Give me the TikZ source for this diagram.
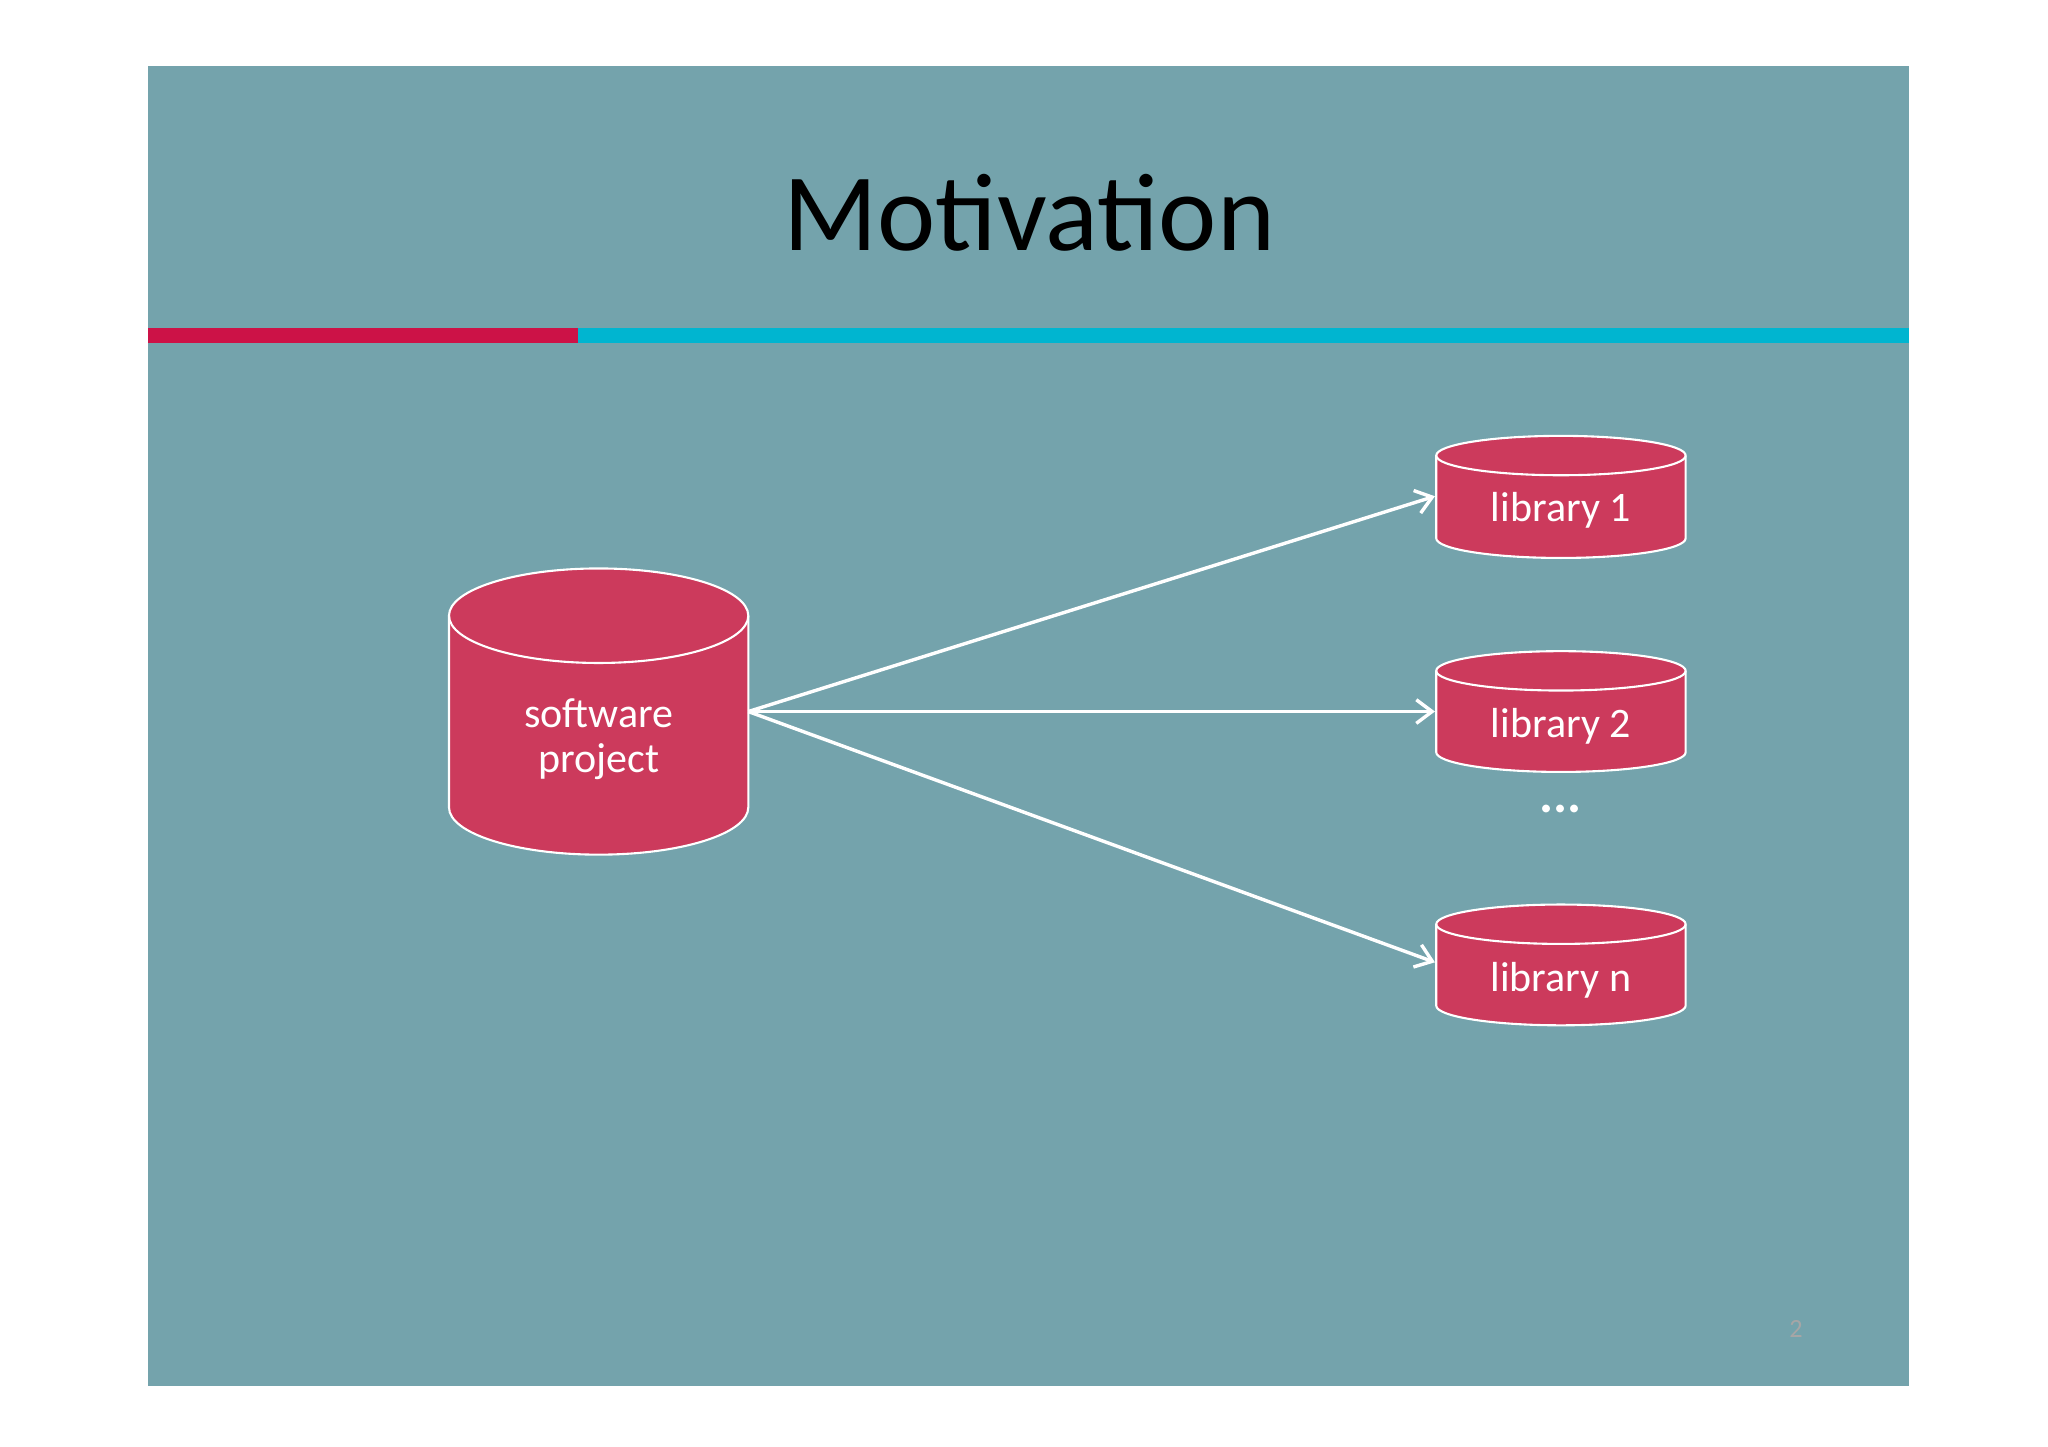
\documentclass[tikz,border=0pt]{standalone}
\usepackage{fontspec}
\setmainfont{Carlito}
\definecolor{bg}{HTML}{74A3AC}
\definecolor{cyl}{HTML}{CC3A5C}
\definecolor{barred}{HTML}{CC1247}
\definecolor{barcyan}{HTML}{00B5D0}
\newcommand{\mycyl}[5]{% x1 x2 ytop ybottom ry
  \pgfmathsetmacro{\rx}{(#2-#1)/2}
  \fill[cyl,draw=white,line width=0.8pt] (#1,#3) -- (#1,#4) arc[start angle=180,end angle=0,x radius=\rx,y radius=#5] -- (#2,#3) arc[start angle=0,end angle=-180,x radius=\rx,y radius=#5] -- cycle;
  \draw[white,line width=0.8pt] (#1,#3) arc[start angle=180,end angle=0,x radius=\rx,y radius=#5];
}
\usetikzlibrary{arrows.meta}
\tikzset{lbl/.style={text=white,font=\fontsize{16}{19}\selectfont,align=center},
arr/.style={white,line width=1.3pt,-{Straight Barb[length=6pt,width=9pt]}}}
\begin{document}
\begin{tikzpicture}[x=0.5pt,y=-0.5pt]
\useasboundingbox (0,0) rectangle (1560,1102);
\fill[white] (0,0) rectangle (1560,1102);
\fill[bg] (113,50) rectangle (1454,1056);
\fill[barred] (113,250) rectangle (440,261);
\fill[barcyan] (440,250) rectangle (1454,261);
\node[font=\fontsize{42}{48}\selectfont] (title) at (784,162) {Motivation};
\mycyl{342}{570}{469}{615}{36}
\mycyl{1094}{1284}{347}{410}{15}
\mycyl{1094}{1284}{511}{573}{15}
\mycyl{1094}{1284}{704}{766}{15}
\node[lbl] (sp) at (456,563) {software\\[-2pt]project};
\node[lbl] (l1) at (1189,389) {library 1};
\node[lbl] (l2) at (1189,553) {library 2};
\node[lbl] (ln) at (1189,747) {library n};
\node[text=white,font=\bfseries\fontsize{20}{22}\selectfont] (dots) at (1189,616) {...};
\node[text=gray!70,font=\fontsize{10}{12}\selectfont] (pg) at (1368,1012) {2};
\coordinate (s) at (570,542);
\coordinate (e1) at (1093,378);
\coordinate (e2) at (1093,542);
\coordinate (en) at (1093,733);
\draw[arr] (s) -- (e1);
\draw[arr] (s) -- (e2);
\draw[arr] (s) -- (en);
\end{tikzpicture}
\end{document}
